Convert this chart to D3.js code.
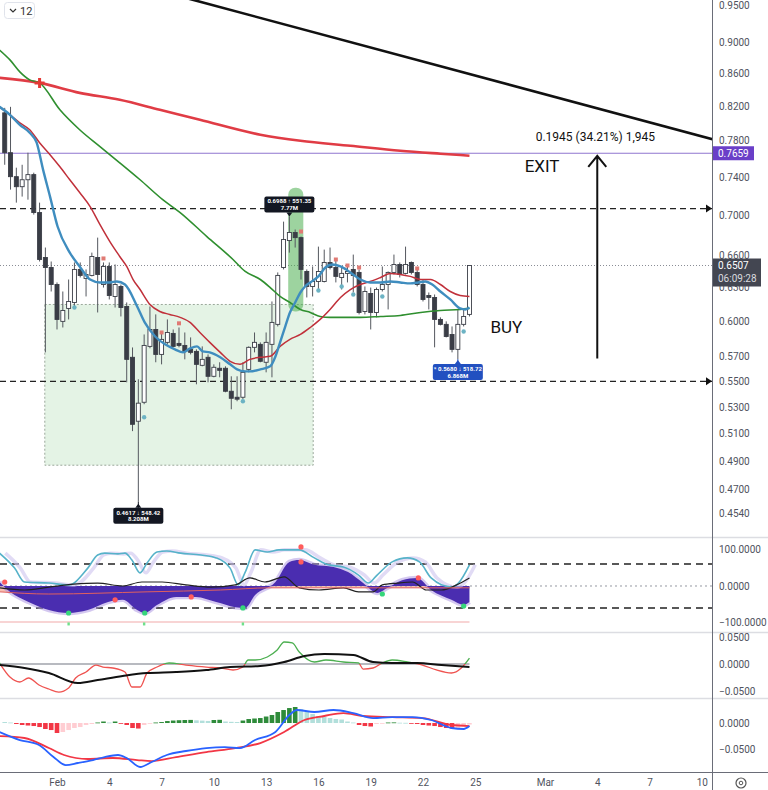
<!DOCTYPE html>
<html>
<head>
<meta charset="utf-8">
<script src="https://cdn.jsdelivr.net/npm/d3@7"></script>
<style>
  body { margin: 0; background: #fff; }
  svg { display: block; font-family: Roboto, "Noto Sans", sans-serif; }
</style>
</head>
<body>
<svg id="chart" width="768" height="790"></svg>
<script>
// ---------- 8h candles, first bar 2023-01-29 00:00 UTC ----------
const opens  = [0.8122,0.7665,0.7403,0.7296,0.7370,0.7425,0.7027,0.6583,0.6488,0.6330,0.6000,0.6114,0.6167,0.6470,0.6386,0.6414,0.6583,0.6330,0.6498,0.6221,0.6312,0.6131,0.5695,0.5190,0.5335,0.5786,0.5930,0.5719,0.5820,0.5896,0.5811,0.5794,0.5761,0.5744,0.5629,0.5695,0.5540,0.5605,0.5605,0.5421,0.5374,0.5374,0.5596,0.5778,0.5803,0.5654,0.5803,0.5974,0.6488,0.6747,0.6826,0.6776,0.6451,0.6312,0.6358,0.6358,0.6536,0.6488,0.6395,0.6433,0.6470,0.6442,0.6087,0.6248,0.6078,0.6284,0.6330,0.6442,0.6517,0.6433,0.6536,0.6442,0.6330,0.6230,0.6212,0.6017,0.5974,0.5887,0.5761,0.5974,0.6061];
const highs  = [0.8181,0.8193,0.7500,0.7532,0.7665,0.7446,0.7129,0.6679,0.6545,0.6349,0.6266,0.6376,0.6536,0.6536,0.6470,0.6630,0.6776,0.6536,0.6536,0.6517,0.6330,0.6167,0.5777,0.5516,0.5887,0.6131,0.6061,0.5913,0.6017,0.5930,0.5947,0.5904,0.5862,0.5761,0.5786,0.5719,0.5637,0.5654,0.5621,0.5540,0.5540,0.5654,0.5786,0.5904,0.5820,0.5904,0.6176,0.6442,0.6935,0.6988,0.6856,0.6786,0.6470,0.6498,0.6688,0.6659,0.6679,0.6564,0.6498,0.6498,0.6611,0.6470,0.6312,0.6302,0.6302,0.6498,0.6451,0.6611,0.6536,0.6688,0.6545,0.6488,0.6376,0.6257,0.6239,0.6035,0.6000,0.5956,0.6105,0.6105,0.6507];
const lows   = [0.7532,0.7265,0.7129,0.7192,0.7160,0.7006,0.6545,0.5736,0.6266,0.5930,0.5947,0.6017,0.6131,0.6395,0.6221,0.6405,0.6078,0.6302,0.6194,0.6122,0.6043,0.5492,0.5116,0.4617,0.5320,0.5770,0.5654,0.5637,0.5803,0.5778,0.5778,0.5678,0.5719,0.5476,0.5621,0.5492,0.5532,0.5532,0.5413,0.5281,0.5343,0.5359,0.5572,0.5736,0.5654,0.5572,0.5532,0.5956,0.6470,0.6630,0.6679,0.6376,0.6212,0.6221,0.6284,0.6349,0.6470,0.6349,0.6284,0.6349,0.6257,0.6061,0.6061,0.5930,0.6035,0.6266,0.6105,0.6423,0.6395,0.6423,0.6423,0.6312,0.6176,0.6105,0.5778,0.5965,0.5862,0.5736,0.5680,0.5956,0.6043];
const closes = [0.7665,0.7403,0.7296,0.7370,0.7425,0.7027,0.6564,0.6488,0.6330,0.6017,0.6096,0.6176,0.6470,0.6414,0.6423,0.6593,0.6423,0.6498,0.6230,0.6330,0.6122,0.5678,0.5167,0.5328,0.5794,0.5930,0.5719,0.5845,0.5904,0.5786,0.5794,0.5744,0.5736,0.5637,0.5678,0.5540,0.5613,0.5588,0.5421,0.5366,0.5359,0.5572,0.5778,0.5820,0.5662,0.5820,0.5991,0.6414,0.6757,0.6826,0.6776,0.6470,0.6312,0.6358,0.6451,0.6536,0.6488,0.6405,0.6433,0.6451,0.6414,0.6078,0.6266,0.6078,0.6284,0.6330,0.6442,0.6517,0.6423,0.6517,0.6442,0.6330,0.6194,0.6212,0.6017,0.5974,0.5870,0.5761,0.5974,0.6043,0.6507];

// moving averages, sampled at bar positions
const emaFastAt = [-0.9,0.9,2.6,4.3,5.5,6.6,7.8,9.1,11.2,12.9,14.7,16.4,18.1,19.3,20.7,22.8,24.1,25.9,27.6,29.3,30.7,31.9,33.1,34.1,35.3,37.1,38.8,40.0,41.4,42.2,44.0,45.7,46.6,47.4,48.3,49.1,50.0,50.9,51.7,52.6,54.0,55.2,56.4,57.8,59.5,61.2,62.9,64.7,66.4,68.1,69.8,71.2,72.4,73.6,75.0,76.7,78.4,79.3,80.0];
const emaFast   = [0.8193,0.8099,0.7982,0.7891,0.7777,0.7479,0.7192,0.6886,0.6630,0.6498,0.6376,0.6349,0.6349,0.6358,0.6330,0.6131,0.5991,0.5870,0.5803,0.5761,0.5736,0.5769,0.5786,0.5744,0.5736,0.5695,0.5637,0.5596,0.5580,0.5580,0.5596,0.5621,0.5702,0.5820,0.5957,0.6078,0.6167,0.6257,0.6312,0.6349,0.6405,0.6488,0.6517,0.6498,0.6442,0.6376,0.6349,0.6349,0.6358,0.6349,0.6340,0.6349,0.6358,0.6330,0.6266,0.6194,0.6114,0.6105,0.6122];
const emaMidAt  = [-0.9,0.9,2.6,4.3,6.0,7.8,9.5,11.2,12.9,14.7,16.4,18.1,19.8,21.0,22.1,23.3,25.0,26.7,28.4,30.2,31.9,33.6,35.3,37.1,38.8,40.5,42.2,44.0,45.7,47.4,49.1,50.9,52.6,54.3,56.0,57.8,59.5,61.2,62.9,64.7,66.4,68.1,69.8,71.6,73.3,75.0,76.7,78.4,80.0];
const emaMid    = [0.8193,0.8099,0.8005,0.7925,0.7777,0.7643,0.7510,0.7370,0.7234,0.7088,0.6905,0.6737,0.6593,0.6498,0.6376,0.6284,0.6149,0.6087,0.6061,0.6035,0.5991,0.5904,0.5820,0.5736,0.5662,0.5637,0.5678,0.5695,0.5703,0.5786,0.5845,0.5887,0.5947,0.6017,0.6105,0.6212,0.6284,0.6330,0.6358,0.6395,0.6433,0.6423,0.6405,0.6376,0.6376,0.6330,0.6266,0.6230,0.6221];
const emaSlowAt = [-0.9,0.9,2.6,4.3,6.0,9.5,12.9,16.4,19.8,23.3,27.2,30.2,34.8,39.3,41.4,44.0,45.7,47.4,49.1,50.9,52.6,54.3,56.0,58.6,61.2,64.7,68.1,71.6,75.0,78.4,80.0];
const emaSlow   = [0.8898,0.8771,0.8620,0.8520,0.8483,0.8158,0.7925,0.7733,0.7554,0.7370,0.7160,0.7027,0.6786,0.6564,0.6451,0.6376,0.6302,0.6221,0.6167,0.6105,0.6078,0.6043,0.6035,0.6035,0.6035,0.6043,0.6052,0.6078,0.6096,0.6105,0.6114];
const ema200At  = [-0.9,6.0,12.9,19.8,26.7,33.6,44.0,50.9,59.5,68.1,75.0,80.0];
const ema200    = [0.8545,0.8483,0.8361,0.8277,0.8158,0.8040,0.7868,0.7799,0.7743,0.7687,0.7654,0.7632];

// buy / sell markers on the candles
const sellAt = [17,27,30,51,57,59,61,71];
const sellPrice = [0.6574,0.5904,0.5983,0.6836,0.6564,0.6507,0.6488,0.6479];
const buyAt = [12,24,41,54,58,60,65,79];
const buyPrice = [0.6122,0.5220,0.5343,0.6275,0.6312,0.6239,0.6221,0.5913];

// oscillator pane
const waveAt = [-0.9,1.7,3.4,7.6,11.0,14.3,16.0,17.2,19.5,20.7,21.9,23.3,24.5,26.2,27.9,30.3,33.8,36.4,38.8,40.2,41.4,43.1,45.2,47.2,50.7,53.3,55.7,58.3,60.9,62.6,64.1,66.7,69.3,71.4,73.4,76.9,78.1,80.0];
const wave   = [90,49,11,8,3,49,85,90,88,90,71,36,63,93,96,90,85,77,49,3,38,99,93,99,99,77,58,52,30,8,30,66,77,66,22,-3,8,58];
const momentumAt = [-0.9,0.9,4.1,7.6,11.0,14.3,17.8,20.3,22.8,24.1,26.2,29.5,32.9,36.4,39.7,41.4,43.1,46.6,49.0,50.7,53.3,56.6,59.1,61.7,64.1,65.9,68.4,71.0,73.4,76.9,79.0,80.0];
const momentum   = [11,-16,-44,-66,-74,-66,-44,-38,-66,-74,-52,-30,-30,-44,-58,-60,-25,11,66,71,58,52,38,8,-19,-5,16,22,-11,-38,-52,-44];
const rsiLineAt = [-0.9,3.4,7.6,11.9,16.0,20.3,23.6,27.1,31.2,35.5,39.7,42.2,44.8,48.1,50.7,54.1,58.3,60.9,63.4,65.0,67.6,70.2,72.6,75.2,77.8,80.0];
const rsiLine   = [-5,-11,-3,5,8,0,11,11,3,-3,3,22,11,25,-5,-11,-5,-16,-16,3,8,11,-11,-11,3,22];
const flowLineAt = [-0.9,7.6,24.5,37.1,45.7,58.3,80.0];
const flowLine   = [-16,-22,-16,-11,-5,-5,-5];
const oscBuyAt = [11.0,24.1,41.0,65.0,79.0];
const oscBuy   = [-74,-74,-60,-22,-55];
const oscSellAt = [0,19.0,32.1,51.0,51.0,71.2];
const oscSell   = [11,-38,-30,66,107,22];
const oscFloorDots = [11,24,41];

// money-flow pane
const flowAt = [-0.9,0.9,2.6,4.1,5.9,7.6,9.3,11.0,12.2,14.0,15.7,16.9,18.6,20.7,21.9,23.3,24.5,26.2,28.3,31.2,34.7,37.2,39.3,41.0,41.9,43.1,45.2,46.9,48.1,49.5,50.7,53.3,55.3,58.3,60.9,61.7,63.4,65.0,66.7,69.3,71.9,74.3,76.9,78.6,80.0];
const flow   = [0.0019,-0.0241,-0.0333,-0.0259,-0.0389,-0.0463,-0.0519,-0.0444,-0.0259,-0.0148,-0.0019,-0.0056,-0.0074,-0.0148,-0.0426,-0.0426,-0.0167,-0.0056,0.0019,-0.0019,-0.0056,-0.0074,-0.0111,-0.0056,0.0074,0.0074,0.0130,0.0259,0.0407,0.0389,0.0222,0.0037,0.0074,0.0037,0.0019,-0.0093,-0.0074,0.0019,0.0074,0.0037,-0.0019,-0.0111,-0.0167,-0.0074,0.0111];
const flowAvgAt = [-0.9,3.4,7.6,12.6,16.0,20.3,24.5,29.5,34.7,38.8,44.0,48.1,51.6,55.0,60.0,63.4,66.7,71.0,75.2,80.0];
const flowAvg   = [-0.0019,-0.0074,-0.0167,-0.0352,-0.0296,-0.0222,-0.0167,-0.0148,-0.0111,-0.0056,-0.0037,0.0037,0.0148,0.0185,0.0167,0.0037,0.0019,0.0019,-0.0019,-0.0056];

// MACD pane
const macdAt = [-0.9,2.6,5.9,8.4,10.5,12.6,15.2,17.2,19.5,21.0,23.3,25.3,27.9,31.2,34.7,37.9,40.5,43.1,46.6,49.0,50.3,53.3,56.6,60.0,63.4,66.7,70.2,73.4,76.9,79.0,80.0];
const macd   = [-0.0173,-0.0327,-0.0423,-0.0654,-0.0808,-0.0769,-0.0712,-0.0654,-0.0615,-0.0673,-0.0846,-0.0750,-0.0615,-0.0538,-0.0481,-0.0462,-0.0481,-0.0327,-0.0173,0.0154,0.0250,0.0212,0.0250,0.0192,0.0096,0.0115,0.0115,0.0058,-0.0096,-0.0115,-0.0058];
const signalAt = [-0.9,3.4,7.6,10.2,14.3,18.6,22.8,25.3,29.5,34.7,39.7,44.0,48.1,51.6,55.0,58.3,61.7,66.7,71.9,76.9,80.0];
const signal   = [-0.0250,-0.0288,-0.0481,-0.0615,-0.0692,-0.0673,-0.0712,-0.0731,-0.0654,-0.0558,-0.0481,-0.0385,-0.0173,0.0058,0.0135,0.0192,0.0135,0.0115,0.0096,-0.0038,-0.0058];
const histogram = [0.0019,0.0010,-0.0019,-0.0038,-0.0048,-0.0058,-0.0077,-0.0115,-0.0135,-0.0192,-0.0173,-0.0135,-0.0096,-0.0077,-0.0038,-0.0019,0.0010,0.0029,0.0010,0.0029,-0.0010,-0.0038,-0.0096,-0.0106,-0.0038,-0.0010,0.0010,0.0019,0.0038,0.0048,0.0054,0.0058,0.0060,0.0052,0.0046,0.0040,0.0058,0.0062,0.0029,0.0023,0.0019,0.0048,0.0077,0.0087,0.0096,0.0125,0.0154,0.0212,0.0250,0.0288,0.0308,0.0269,0.0212,0.0173,0.0135,0.0115,0.0096,0.0077,0.0067,0.0029,0.0010,-0.0038,-0.0058,-0.0067,-0.0019,-0.0010,0.0010,0.0012,0.0006,0.0004,-0.0006,-0.0019,-0.0038,-0.0048,-0.0058,-0.0077,-0.0096,-0.0106,-0.0096,-0.0058,-0.0029];

// axis labels
const priceTicks = [0.95,0.90,0.86,0.82,0.78,0.74,0.70,0.66,0.63,0.60,0.57,0.55,0.53,0.51,0.49,0.47,0.454];
const oscTicks = [100,0,-100];
const flowTicks = [0.05,0,-0.05];
const macdTicks = [0,-0.05];
const dateTicks = [[2023,1,1],[2023,1,4],[2023,1,7],[2023,1,10],[2023,1,13],[2023,1,16],[2023,1,19],[2023,1,22],[2023,1,25],[2023,2,1],[2023,2,4],[2023,2,7],[2023,2,10]];

// drawings
const levels = [0.7068, 0.55];
const lastPrice = 0.6507;
const targetLevel = 0.7659;
const zone = {from: 6.9, to: 53.1, top: 0.6149, bottom: 0.4869};
const pill = {from: 48.8, to: 51.4, top: 0.7285, bottom: 0.6087};
const trend = [[26.5, 0.9699], [125.5, 0.7751]];
const move = {at: 102, from: 0.5685, to: 0.7630};

// ---------- scales ----------
const plotW = 712;
const barMs = 8 * 3600e3;
const firstBar = Date.UTC(2023, 0, 29, 0, 0);
const at = p => new Date(firstBar + p * barMs);

const x = d3.scaleUtc().domain([Date.UTC(2023,0,28,17,30), Date.UTC(2023,2,10,14,0)]).range([0, plotW]);
const xp = p => x(at(p));
const y = d3.scaleLog().domain([0.4387, 0.9568]).range([537, 0]);
const yOsc = d3.scaleLinear().domain([-128.8, 131.5]).range([633, 538]);
const yFlow = d3.scaleLinear().domain([-0.0648, 0.0574]).range([699, 633]);
const yMacd = d3.scaleLinear().domain([-0.0942, 0.0462]).range([772, 699]);

const svg = d3.select('#chart');
const defs = svg.append('defs');
function clip(id, y0, y1) {
  defs.append('clipPath').attr('id', id).append('rect')
    .attr('x', 0).attr('y', y0).attr('width', plotW).attr('height', y1 - y0);
  return svg.append('g').attr('clip-path', `url(#${id})`);
}
const pts = (atArr, vals) => atArr.map((p, i) => [p, vals[i]]);
const lineOf = ys => d3.line().x(d => xp(d[0])).y(d => ys(d[1])).curve(d3.curveMonotoneX);

// ---------- price pane ----------
const gMain = clip('clipMain', 0, 537);

gMain.append('rect')
  .attr('x', xp(zone.from)).attr('y', y(zone.top))
  .attr('width', xp(zone.to) - xp(zone.from)).attr('height', y(zone.bottom) - y(zone.top))
  .attr('fill', 'rgba(76,175,80,0.15)').attr('stroke', '#9aa79a')
  .attr('stroke-dasharray', '2,2').attr('stroke-width', 1);

levels.forEach(v => {
  gMain.append('line').attr('x1', 0).attr('x2', plotW).attr('y1', y(v)).attr('y2', y(v))
    .attr('stroke', '#222').attr('stroke-width', 1.2).attr('stroke-dasharray', '6,4');
});
gMain.append('line').attr('x1', 0).attr('x2', plotW).attr('y1', y(lastPrice)).attr('y2', y(lastPrice))
  .attr('stroke', '#8a8d96').attr('stroke-width', 1).attr('stroke-dasharray', '1,2');
gMain.append('line').attr('x1', 0).attr('x2', plotW).attr('y1', y(targetLevel)).attr('y2', y(targetLevel))
  .attr('stroke', '#8f76cf').attr('stroke-width', 1.2);

gMain.append('rect')
  .attr('x', xp(pill.from)).attr('y', y(pill.top))
  .attr('width', xp(pill.to) - xp(pill.from)).attr('height', y(pill.bottom) - y(pill.top))
  .attr('rx', 7).attr('fill', 'rgba(76,175,80,0.55)');

// candles
const candles = opens.map((o, i) => ({i, o, h: highs[i], l: lows[i], c: closes[i]}));
const bodyW = 4;
const cg = gMain.append('g');
cg.selectAll('line.wick').data(candles).join('line')
  .attr('x1', d => xp(d.i)).attr('x2', d => xp(d.i))
  .attr('y1', d => y(d.h)).attr('y2', d => y(d.l))
  .attr('stroke', '#55585f').attr('stroke-width', 1);
cg.selectAll('rect.body').data(candles).join('rect')
  .attr('x', d => xp(d.i) - bodyW / 2)
  .attr('y', d => y(Math.max(d.o, d.c)))
  .attr('width', bodyW)
  .attr('height', d => Math.max(1, Math.abs(y(d.o) - y(d.c))))
  .attr('fill', d => d.c >= d.o ? '#ffffff' : '#3a3d46')
  .attr('stroke', '#3a3d46').attr('stroke-width', 0.9);

// moving averages
const mainLine = lineOf(y);
gMain.append('path').attr('d', mainLine(pts(ema200At, ema200))).attr('fill', 'none').attr('stroke', '#e03c45').attr('stroke-width', 2.6);
gMain.append('path').attr('d', mainLine(pts(emaSlowAt, emaSlow))).attr('fill', 'none').attr('stroke', '#2f8f2f').attr('stroke-width', 1.6);
gMain.append('path').attr('d', mainLine(pts(emaMidAt, emaMid))).attr('fill', 'none').attr('stroke', '#c0303a').attr('stroke-width', 1.5);
gMain.append('path').attr('d', mainLine(pts(emaFastAt, emaFast))).attr('fill', 'none').attr('stroke', '#3f8dbf').attr('stroke-width', 2.4);

// cross marker where the slow average meets the 200 average
const crossX = xp(6.0), crossY = y(0.8483);
gMain.append('path').attr('d', `M${crossX - 5},${crossY}H${crossX + 5}M${crossX},${crossY - 5}V${crossY + 5}`)
  .attr('stroke', '#e53935').attr('stroke-width', 3);

// signal markers
gMain.selectAll('rect.sell').data(sellAt).join('rect')
  .attr('x', (d) => xp(d) - 2).attr('y', (d, i) => y(sellPrice[i]) - 2)
  .attr('width', 4).attr('height', 4).attr('fill', '#e07a74');
gMain.selectAll('circle.buy').data(buyAt).join('circle')
  .attr('cx', d => xp(d)).attr('cy', (d, i) => y(buyPrice[i])).attr('r', 2.2).attr('fill', '#6cb3c4');

// trend line
gMain.append('line')
  .attr('x1', xp(trend[0][0])).attr('y1', y(trend[0][1]))
  .attr('x2', xp(trend[1][0])).attr('y2', y(trend[1][1]))
  .attr('stroke', '#111').attr('stroke-width', 2.6);

// projected move arrow
const ax = xp(move.at), ay0 = y(move.from), ay1 = y(move.to);
gMain.append('path').attr('d', `M${ax},${ay0}V${ay1}M${ax - 9},${ay1 + 11}L${ax},${ay1}L${ax + 9},${ay1 + 11}`)
  .attr('fill', 'none').attr('stroke', '#111').attr('stroke-width', 2);
gMain.append('text').attr('x', xp(91.4)).attr('y', y(0.7799)).attr('font-size', 12).attr('fill', '#111')
  .text('0.1945 (34.21%) 1,945');
gMain.append('text').attr('x', xp(89.5)).attr('y', y(0.7457)).attr('font-size', 17).attr('fill', '#111').text('EXIT');
gMain.append('text').attr('x', xp(83.6)).attr('y', y(0.5896)).attr('font-size', 17).attr('fill', '#111').text('BUY');

// high / low callouts
function callout(barIdx, price, above, fill, line1, line2, offset) {
  const cx = xp(barIdx), ty = y(price);
  const w = 50, h = 16;
  const by = above ? ty - 4 - h : ty + (offset || 5);
  const g = gMain.append('g');
  if (above) {
    g.append('path').attr('d', `M${cx - 3},${by + h}L${cx},${ty}L${cx + 3},${by + h}Z`).attr('fill', fill);
  } else {
    g.append('line').attr('x1', cx).attr('x2', cx).attr('y1', ty).attr('y2', by).attr('stroke', fill).attr('stroke-width', 1);
    g.append('path').attr('d', `M${cx - 3},${by}L${cx},${by - 4}L${cx + 3},${by}Z`).attr('fill', fill);
  }
  g.append('rect').attr('x', cx - w / 2).attr('y', by).attr('width', w).attr('height', h).attr('rx', 2).attr('fill', fill);
  g.append('text').attr('x', cx).attr('y', by + 7).attr('text-anchor', 'middle').attr('font-size', 6).attr('font-weight', 700)
    .attr('fill', '#fff').text(line1);
  g.append('text').attr('x', cx).attr('y', by + 13.5).attr('text-anchor', 'middle').attr('font-size', 6).attr('font-weight', 700)
    .attr('fill', '#fff').text(line2);
}
callout(49, highs[49], true, '#131722', '0.6988 ↑ 551.35', '7.77M');
callout(23, lows[23], false, '#131722', '0.4617 ↓ 548.42', '8.208M', 6);
callout(78, lows[78], false, '#2250c0', '* 0.5680 ↓ 518.72', '6.868M', 5);

// ---------- oscillator pane ----------
const gOsc = clip('clipOsc', 538, 632);
gOsc.append('path')
  .attr('d', d3.area().x(d => xp(d[0])).y0(yOsc(0)).y1(d => yOsc(d[1])).curve(d3.curveMonotoneX)(pts(flowLineAt, flowLine)))
  .attr('fill', 'rgba(240,128,100,0.5)');
gOsc.append('line').attr('x1', 0).attr('x2', plotW).attr('y1', yOsc(0)).attr('y2', yOsc(0))
  .attr('stroke', '#9598a1').attr('stroke-dasharray', '2,3');
[60, -60].forEach(v => gOsc.append('line').attr('x1', 0).attr('x2', plotW).attr('y1', yOsc(v)).attr('y2', yOsc(v))
  .attr('stroke', '#222').attr('stroke-width', 1.5).attr('stroke-dasharray', '7,5'));
gOsc.append('line').attr('x1', 0).attr('x2', xp(80)).attr('y1', yOsc(-99)).attr('y2', yOsc(-99))
  .attr('stroke', '#f6c6c6').attr('stroke-width', 1.5);

const oscLine = lineOf(yOsc);
gOsc.append('path').attr('d', oscLine(pts(momentumAt, momentum))).attr('fill', 'none')
  .attr('stroke', 'rgba(170,145,225,0.5)').attr('stroke-width', 4.5);
gOsc.append('path')
  .attr('d', d3.area().x(d => xp(d[0])).y0(yOsc(0)).y1(d => yOsc(d[1])).curve(d3.curveMonotoneX)(pts(momentumAt, momentum)))
  .attr('fill', '#4a2db0');
// lagging shadow of the wave line
gOsc.append('path').attr('d', oscLine(pts(waveAt.map(p => p + 1), wave))).attr('fill', 'none')
  .attr('stroke', 'rgba(205,195,238,0.6)').attr('stroke-width', 3.5);
gOsc.append('path').attr('d', oscLine(pts(waveAt, wave))).attr('fill', 'none')
  .attr('stroke', '#56b2c9').attr('stroke-width', 1.6);
gOsc.append('path').attr('d', oscLine(pts(rsiLineAt, rsiLine))).attr('fill', 'none')
  .attr('stroke', '#222').attr('stroke-width', 1.2);
gOsc.append('path').attr('d', oscLine(pts(flowLineAt, flowLine))).attr('fill', 'none')
  .attr('stroke', '#e06060').attr('stroke-width', 1);
gOsc.selectAll('circle.ob').data(pts(oscBuyAt, oscBuy)).join('circle')
  .attr('cx', d => xp(d[0])).attr('cy', d => yOsc(d[1])).attr('r', 2.6).attr('fill', '#35d67a');
gOsc.selectAll('circle.os').data(pts(oscSellAt, oscSell)).join('circle')
  .attr('cx', d => xp(d[0])).attr('cy', d => yOsc(d[1])).attr('r', 2.6).attr('fill', '#ff5c5c');
gOsc.selectAll('rect.fl').data(oscFloorDots).join('rect')
  .attr('x', d => xp(d) - 1.2).attr('y', yOsc(-104) - 1.5).attr('width', 2.4).attr('height', 3).attr('fill', '#6ee08a');

// ---------- money flow pane ----------
const gFlow = clip('clipFlow', 633, 698);
gFlow.append('line').attr('x1', 0).attr('x2', xp(80)).attr('y1', yFlow(0)).attr('y2', yFlow(0))
  .attr('stroke', '#b8bac0').attr('stroke-width', 2);
const flowPath = lineOf(yFlow)(pts(flowAt, flow));
defs.append('clipPath').attr('id', 'flowUp').append('rect').attr('x', 0).attr('y', 633).attr('width', plotW).attr('height', yFlow(0) - 633);
defs.append('clipPath').attr('id', 'flowDn').append('rect').attr('x', 0).attr('y', yFlow(0)).attr('width', plotW).attr('height', 699 - yFlow(0));
gFlow.append('path').attr('d', flowPath).attr('clip-path', 'url(#flowUp)').attr('fill', 'none').attr('stroke', '#4caf50').attr('stroke-width', 1.3);
gFlow.append('path').attr('d', flowPath).attr('clip-path', 'url(#flowDn)').attr('fill', 'none').attr('stroke', '#ef5350').attr('stroke-width', 1.3);
gFlow.append('path').attr('d', lineOf(yFlow)(pts(flowAvgAt, flowAvg))).attr('fill', 'none').attr('stroke', '#111').attr('stroke-width', 2);

// ---------- MACD pane ----------
const gMacd = clip('clipMacd', 699, 772);
gMacd.selectAll('rect.hist').data(histogram).join('rect')
  .attr('x', (d, i) => xp(i) - 2.3)
  .attr('y', d => yMacd(Math.max(0, d)))
  .attr('width', 4.6)
  .attr('height', d => Math.max(0.8, Math.abs(yMacd(d) - yMacd(0))))
  .attr('fill', (d, i) => {
    const prev = i > 0 ? histogram[i - 1] : d + 1;
    if (d >= 0) return d > prev ? '#2e8b3a' : '#b2dfdb';
    return d < prev ? '#f23645' : '#ffcdd2';
  });
gMacd.append('path').attr('d', lineOf(yMacd)(pts(signalAt, signal))).attr('fill', 'none').attr('stroke', '#f23645').attr('stroke-width', 1.8);
gMacd.append('path').attr('d', lineOf(yMacd)(pts(macdAt, macd))).attr('fill', 'none').attr('stroke', '#2962ff').attr('stroke-width', 1.8);

// ---------- frame, separators, axes ----------
[537.5, 632.5, 698.5].forEach(v => svg.append('line').attr('x1', 0).attr('x2', 768).attr('y1', v).attr('y2', v)
  .attr('stroke', '#dcdde2').attr('stroke-width', 1.5));
svg.append('line').attr('x1', 0).attr('x2', 768).attr('y1', 772.5).attr('y2', 772.5).attr('stroke', '#6a6d78');
svg.append('line').attr('x1', 712.5).attr('x2', 712.5).attr('y1', 0).attr('y2', 790).attr('stroke', '#6a6d78');

function rightAxis(scale, ticks, fmt) {
  const g = svg.append('g').attr('transform', 'translate(712,0)')
    .call(d3.axisRight(scale).tickValues(ticks).tickSize(0).tickPadding(7).tickFormat(fmt));
  g.select('.domain').remove();
  g.selectAll('text').attr('fill', '#50535e').attr('font-size', 10).attr('font-family', 'Roboto, "Noto Sans", sans-serif');
}
rightAxis(y, priceTicks, d3.format('.4f'));
rightAxis(yOsc, oscTicks, d3.format('.4f'));
rightAxis(yFlow, flowTicks, d3.format('.4f'));
rightAxis(yMacd, macdTicks, d3.format('.4f'));

// level arrows at the axis edge
levels.forEach(v => svg.append('path').attr('d', `M706,${y(v) - 4}L712,${y(v)}L706,${y(v) + 4}Z`).attr('fill', '#111'));

// price tags
const tagY = y(targetLevel);
svg.append('rect').attr('x', 713).attr('y', tagY - 7).attr('width', 41).attr('height', 14).attr('fill', '#6a3fc8');
svg.append('text').attr('x', 718).attr('y', tagY + 3.5).attr('font-size', 10).attr('fill', '#fff').text(d3.format('.4f')(targetLevel));
const lastY = y(lastPrice);
svg.append('rect').attr('x', 713).attr('y', lastY - 7).attr('width', 48).attr('height', 28).attr('fill', '#434651');
svg.append('text').attr('x', 718).attr('y', lastY + 3.5).attr('font-size', 10).attr('fill', '#fff').text(d3.format('.4f')(lastPrice));
svg.append('text').attr('x', 718).attr('y', lastY + 16.5).attr('font-size', 10).attr('fill', '#d8d9de').text('06:09:28');

// time axis
const monthFmt = d3.utcFormat('%b');
const xAxis = svg.append('g').attr('transform', 'translate(0,772)')
  .call(d3.axisBottom(x)
    .tickValues(dateTicks.map(d => new Date(Date.UTC(d[0], d[1], d[2]))))
    .tickSize(0).tickPadding(7)
    .tickFormat(d => d.getUTCDate() === 1 ? monthFmt(d) : String(d.getUTCDate())));
xAxis.select('.domain').remove();
xAxis.selectAll('text').attr('fill', '#50535e').attr('font-size', 10).attr('font-family', 'Roboto, "Noto Sans", sans-serif');

// settings icon
svg.append('circle').attr('cx', 741).attr('cy', 783).attr('r', 5).attr('fill', 'none').attr('stroke', '#555').attr('stroke-width', 1.2);
svg.append('circle').attr('cx', 741).attr('cy', 783).attr('r', 1.8).attr('fill', 'none').attr('stroke', '#555').attr('stroke-width', 1);

// collapsed-panes toggle
svg.append('rect').attr('x', 4.5).attr('y', 2.5).attr('width', 30).attr('height', 16).attr('rx', 3)
  .attr('fill', '#fff').attr('stroke', '#e0e3eb');
svg.append('path').attr('d', 'M10,9L13,12L16,9').attr('fill', 'none').attr('stroke', '#333').attr('stroke-width', 1.2);
svg.append('text').attr('x', 20).attr('y', 14.5).attr('font-size', 11).attr('fill', '#333').text('12');
</script>
</body>
</html>
